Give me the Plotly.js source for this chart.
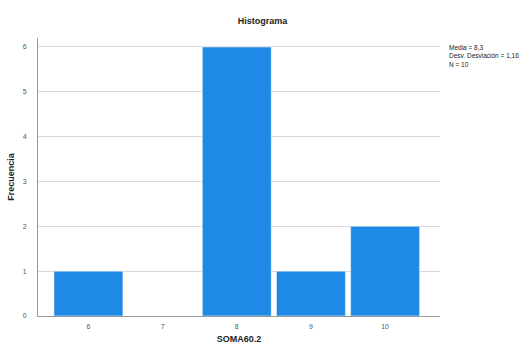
<!DOCTYPE html>
<html><head><meta charset="utf-8">
<script src="https://cdn.plot.ly/plotly-3.0.1.min.js"></script>
<style>body{margin:0;background:#fff}#chart{width:520px;height:352px}</style>
</head><body><div id="chart"></div>
<script>
const categories = [6, 7, 8, 9, 10];
const counts = [1, 0, 6, 1, 2];
const yTicks = [0, 1, 2, 3, 4, 5, 6];
const statsLines = ["Media = 8,3", "Desv. Desviación = 1,16", "N = 10"];

const trace = {
  type: 'bar', x: categories, y: counts, width: 0.93,
  marker: {color: '#1f8ae6', line: {color: '#ffffff', width: 0.5}},
  hoverinfo: 'x+y'
};
const layout = {
  width: 520, height: 352,
  margin: {l: 38, r: 80, t: 38, b: 36},
  paper_bgcolor: '#ffffff', plot_bgcolor: '#ffffff',
  font: {family: 'Liberation Sans, Arial, sans-serif', color: '#333'},
  title: {text: '<b>Histograma</b>', x: 0.505, xanchor: 'center', y: 0.94, yanchor: 'middle', font: {size: 9, color: '#222'}},
  showlegend: false,
  bargap: 0,
  xaxis: {
    range: [5.32, 10.74], tickvals: categories, ticktext: categories.map(String),
    showgrid: false, zeroline: false, showline: true, linecolor: '#999', linewidth: 1,
    ticks: '', tickfont: {size: 7, color: '#555'}, ticklabelstandoff: 4,
    title: {text: '<b>SOMA60.2</b>', font: {size: 9, color: '#222'}, standoff: 6}
  },
  yaxis: {
    range: [0, 6.2], tickvals: yTicks, ticktext: yTicks.map(String),
    showgrid: true, gridcolor: '#d9d9d9', gridwidth: 1, zeroline: false,
    showline: true, linecolor: '#999', linewidth: 1,
    ticks: '', tickfont: {size: 7, color: '#555'}, ticklabelstandoff: 9,
    title: {text: '<b>Frecuencia</b>', font: {size: 9, color: '#222'}, standoff: 6}
  },
  annotations: [{
    xref: 'paper', yref: 'paper', x: 1.018, y: 0.985, xanchor: 'left', yanchor: 'top',
    align: 'left', showarrow: false, text: statsLines.join('<br>'),
    font: {size: 6.5, color: '#222'}
  }]
};
Plotly.newPlot('chart', [trace], layout, {displayModeBar: false, staticPlot: true});
</script></body></html>
